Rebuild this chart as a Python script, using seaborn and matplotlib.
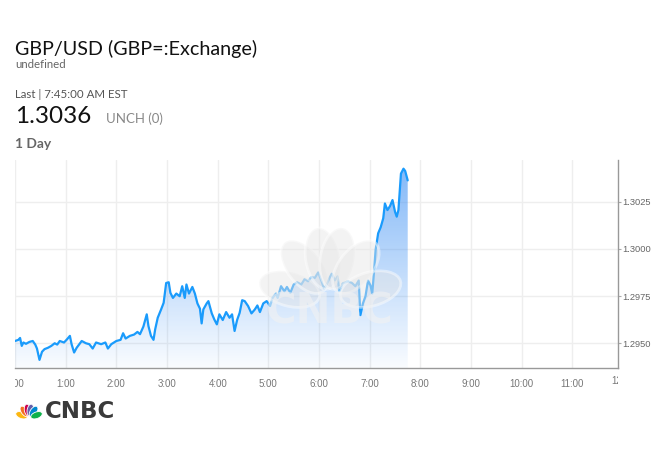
import numpy as np
import matplotlib
matplotlib.use("Agg")
import matplotlib.pyplot as plt
from matplotlib.patches import Ellipse
from matplotlib.transforms import Bbox, TransformedBbox, blended_transform_factory
import seaborn as sns

# GBP/USD intraday, minutes after midnight and rate
minutes = [0, 4, 6, 8, 10, 13, 17, 21, 24, 26, 29, 32, 35, 39, 43, 47, 50, 53, 58, 61,
           65, 67, 70, 73, 79, 84, 88, 92, 96, 102, 107, 110, 114, 120, 125, 128, 131, 136,
           141, 145, 148, 152, 156, 158, 161, 164, 166, 169, 173, 176, 179, 182, 184, 187,
           191, 195, 198, 201, 203, 206, 210, 213, 216, 219, 221, 223, 227, 229, 233, 236,
           239, 242, 246, 250, 254, 257, 260, 263, 266, 269, 272, 276, 280, 284, 287, 290,
           294, 298, 302, 305, 309, 311, 315, 319, 322, 326, 330, 334, 339, 343, 347, 351,
           355, 359, 362, 366, 369, 373, 375, 379, 382, 384, 388, 394, 399, 403, 407, 409,
           412, 415, 418, 421, 423, 425, 427, 430, 433, 436, 438, 441, 444, 447, 450, 452,
           454, 457, 460, 462, 465]
rates = [1.29512, 1.29518, 1.29528, 1.29486, 1.29504, 1.29497, 1.29507, 1.29512, 1.29493,
         1.29472, 1.29412, 1.29455, 1.29469, 1.29476, 1.29486, 1.29500, 1.29493, 1.29512,
         1.29504, 1.29518, 1.29539, 1.29495, 1.29451, 1.29476, 1.29512, 1.29500, 1.29495,
         1.29472, 1.29504, 1.29495, 1.29504, 1.29472, 1.29495, 1.29512, 1.29518, 1.29553,
         1.29525, 1.29539, 1.29546, 1.29560, 1.29548, 1.29588, 1.29653, 1.29591, 1.29539,
         1.29518, 1.29574, 1.29635, 1.29679, 1.29714, 1.29819, 1.29823, 1.29767, 1.29740,
         1.29763, 1.29749, 1.29802, 1.29740, 1.29811, 1.29763, 1.29798, 1.29763, 1.29711,
         1.29683, 1.29605, 1.29679, 1.29711, 1.29723, 1.29658, 1.29626, 1.29600, 1.29653,
         1.29623, 1.29665, 1.29635, 1.29653, 1.29565, 1.29623, 1.29661, 1.29728, 1.29723,
         1.29697, 1.29658, 1.29679, 1.29700, 1.29665, 1.29711, 1.29723, 1.29697, 1.29740,
         1.29763, 1.29740, 1.29802, 1.29775, 1.29798, 1.29767, 1.29811, 1.29823, 1.29811,
         1.29840, 1.29828, 1.29851, 1.29846, 1.29875, 1.29840, 1.29788, 1.29811, 1.29851,
         1.29868, 1.29833, 1.29854, 1.29775, 1.29816, 1.29828, 1.29819, 1.29802, 1.29832,
         1.29649, 1.29711, 1.29749, 1.29832, 1.29805, 1.29763, 1.29872, 1.29995, 1.30082,
         1.30114, 1.30161, 1.30240, 1.30205, 1.30226, 1.30258, 1.30196, 1.30170, 1.30205,
         1.30398, 1.30424, 1.30412, 1.30362]

hour_ticks = list(range(0, 13))
hour_labels = [f"{h}:00" for h in hour_ticks]
rate_ticks = [1.2950, 1.2975, 1.3000, 1.3025]
rate_labels = ["1.2950", "1.2975", "1.3000", "1.3025"]

W, H = 670, 450
sns.set_style("white")
plt.rcParams['font.family'] = ['Lato', 'DejaVu Sans']

fig = plt.figure(figsize=(W / 100, H / 100), dpi=100)


def px(x, y):
    return x / W, 1 - y / H


# main chart
x0, x1, y0, y1 = 15, 618, 160, 368
ax = fig.add_axes([x0 / W, 1 - y1 / H, (x1 - x0) / W, (y1 - y0) / H], zorder=1)
ax.patch.set_alpha(0)

xmax = 714
ymin, ymax = 1.29369, 1.30470

ax.set_xticks([h * 60 for h in hour_ticks])
ax.set_xticklabels(hour_labels)
ax.yaxis.tick_right()
ax.set_yticks(rate_ticks)
ax.set_yticklabels(rate_labels)
ax.grid(True, color='#eeeeee', linewidth=1)
ax.set_axisbelow(True)

poly = ax.fill_between(minutes, rates, ymin, facecolor='none', edgecolor='none')
grad = np.zeros((256, 1, 4))
grad[:, 0, 0] = 0.26
grad[:, 0, 1] = 0.58
grad[:, 0, 2] = 0.96
grad[:, 0, 3] = np.linspace(0.03, 0.68, 256)
img = ax.imshow(grad, origin='lower', extent=[0, xmax, ymin, ymax], aspect='auto', zorder=1)
img.set_clip_path(poly.get_paths()[0], transform=ax.transData)

sns.lineplot(x=minutes, y=rates, ax=ax, color='#1a9bfc', linewidth=1.6, zorder=3)

ax.set_xlim(0, xmax)
ax.set_ylim(ymin, ymax)
ax.set_xlabel('')
ax.set_ylabel('')
for s in ['top', 'left']:
    ax.spines[s].set_visible(False)
for s in ['bottom', 'right']:
    ax.spines[s].set_color('#999999')
    ax.spines[s].set_linewidth(1)
ax.tick_params(axis='x', length=0, pad=8, labelsize=7, labelcolor='#777777')
ax.tick_params(axis='y', length=2, width=0.8, color='#aaaaaa', pad=1, labelsize=6.7,
               labelcolor='#666666')
clip = TransformedBbox(Bbox([[0, -1], [1, 1]]), ax.transAxes)
for lab in ax.get_xticklabels() + ax.get_yticklabels():
    lab.set_family(['Liberation Sans', 'DejaVu Sans'])
for lab in ax.get_xticklabels():
    lab.set_clip_box(clip)
    lab.set_clip_on(True)
# the 12:00 label sits just past the right edge and is cut off
tr = blended_transform_factory(ax.transData, ax.transAxes)
last = ax.text(hour_ticks[-1] * 60, -0.038, hour_labels[-1], transform=tr, ha='center',
               va='top', fontsize=7, color='#777777', family=['Liberation Sans', 'DejaVu Sans'])
last.set_clip_box(clip)
last.set_clip_on(True)

# watermark, drawn over the chart and faded
wm = fig.add_axes([0, 0, 1, 1], zorder=2)
wm.set_xlim(0, W)
wm.set_ylim(H, 0)
wm.axis('off')
base = (330, 300)
for ang in [165, 128, 100, 80, 52, 15]:
    r = np.deg2rad(ang)
    cx = base[0] + 42 * np.cos(r)
    cy = base[1] - 42 * np.sin(r)
    wm.add_patch(Ellipse((cx, cy), 62, 34, angle=-ang, facecolor='#e6e6e6',
                         edgecolor='white', linewidth=2, alpha=0.45))
wm.text(330, 312, "CNBC", ha='center', va='center', fontsize=30, fontweight='bold',
        color='#f2f2f2', alpha=0.6, family='DejaVu Sans')

# header texts
fig.text(*px(15, 55), "GBP/USD (GBP=:Exchange)", fontsize=14.2, color='#111111', va='baseline')
fig.text(*px(15, 68.3), "undefined", fontsize=8.2, color='#666666', va='baseline')
fig.text(*px(15, 97.7), "Last | 7:45:00 AM EST", fontsize=8.3, color='#555555', va='baseline')
fig.text(*px(15, 122.7), "1.3036", fontsize=17.5, color='#111111', va='baseline')
fig.text(*px(106, 122.7), "UNCH (0)", fontsize=9.5, color='#888888', va='baseline')
fig.text(*px(15, 148), "1 Day", fontsize=10, color='#666666', va='baseline', fontweight='bold')

# logo at bottom-left
lg = fig.add_axes([0, 0, 1, 1], zorder=3)
lg.set_xlim(0, W)
lg.set_ylim(H, 0)
lg.axis('off')
lb = (29, 418)
for ang, col in zip([160, 125, 100, 80, 55, 20],
                    ['#fcb711', '#f37021', '#cc004c', '#6460aa', '#0089d0', '#0db14b']):
    r = np.deg2rad(ang)
    lg.add_patch(Ellipse((lb[0] + 8 * np.cos(r), lb[1] - 8 * np.sin(r)), 12, 6.5,
                         angle=-ang, facecolor=col, edgecolor='white', linewidth=0.6))
lg.text(45, 418, "CNBC", ha='left', va='baseline', fontsize=16.5, fontweight='heavy',
        color='#3a3a3a', family='DejaVu Sans')

fig.savefig("out.png", dpi=100)
